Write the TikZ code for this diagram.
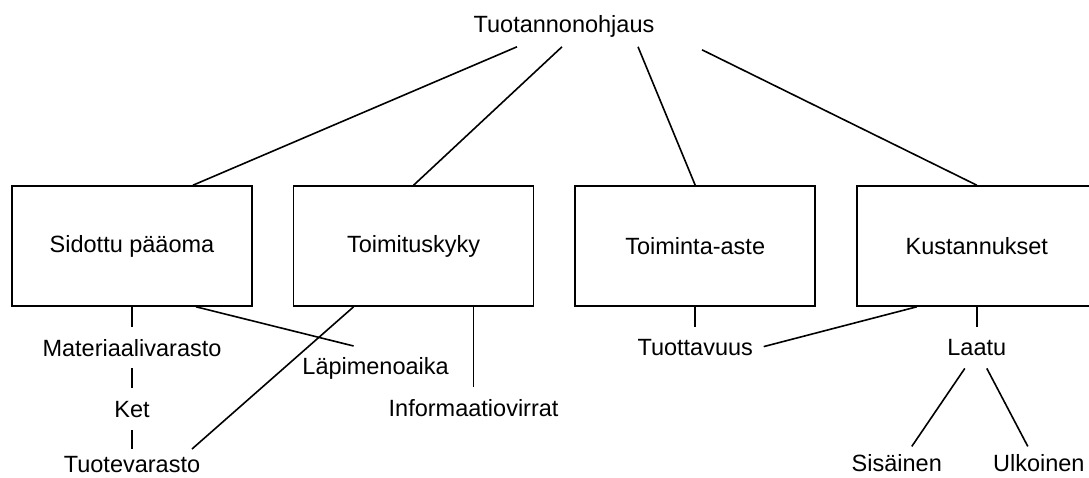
\documentclass[tikz,border=0pt]{standalone}
\usepackage{fontspec}
\setmainfont{Liberation Sans}
\usetikzlibrary{calc,positioning}

\begin{document}
\begin{tikzpicture}[x=1pt,y=-1pt,line width=1.6pt,
	font=\fontsize{23.5pt}{28pt}\selectfont,
	box/.style={draw,minimum width=240pt,minimum height=120pt,inner sep=0pt},
	txt/.style={inner sep=0pt,minimum height=40pt},
	lowtxt/.style={inner sep=1pt}]
		\useasboundingbox (0,0) rectangle (1089,477);
		\node(1) [txt] at (564,26) {Tuotannonohjaus};
		\node(2) [box] at (132,246) {Sidottu pääoma};
		\node(3) [box,right=40pt of 2] {Toimituskyky};
		\node(4) [box,right=40pt of 3] {Toiminta-aste};
		\node(5) [box,right=40pt of 4] {Kustannukset};
		\node(6) [txt,below=20pt of 2] {Materiaalivarasto};
		\node(7) [txt,below=20pt of 6] {Ket};
		\node(8) [lowtxt] at ($(7.south)+(0,35)$) {Tuotevarasto};
		\node(9) [txt] at ($(3.south)+(-38,62)$) {Läpimenoaika};
		\node(10) [txt] at ($(3.south)+(60,101)$) {Informaatiovirrat};
		\node(11) [txt,below=20pt of 4] {Tuottavuus};
		\node(12) [txt,below=20pt of 5] {Laatu};
		\node(13) [lowtxt] at ($(12.south)+(-80,95)$) {Sisäinen};
		\node(14) [lowtxt] at ($(12.south)+(62,95)$) {Ulkoinen};
		\path
			($(1.south)+(-47,0)$) edge ($(2.north)+(61,0)$)
			($(1.south)+(-2,0)$) edge (3.north)
			($(1.south)+(74,0)$) edge (4.north)
			($(1.south)+(138,3)$) edge (5.north);
		\path
			(2.south) edge (6.north)
			(6.south) edge (7.north)
			(7.south) edge ($(8.center)+(0,-16)$)
			($(2.south)+(64,0)$) edge ($(9.north)+(-22,-2)$)
			($(3.south)+(-60,0)$) edge ($(8.center)+(60,-16)$)
			(3.south -| 10.north) edge (10.north)
			(4.south) edge (11.north)
			($(5.south)+(-60,0)$) edge ($(11.east)+(10,-1)$)
			(5.south) edge (12.north)
			($(12.south)+(-12,0)$) edge ($(13.center)+(15,-17)$)
			($(12.south)+(10,0)$) edge ($(14.center)+(-11,-17)$);
	\end{tikzpicture}
\end{document}
